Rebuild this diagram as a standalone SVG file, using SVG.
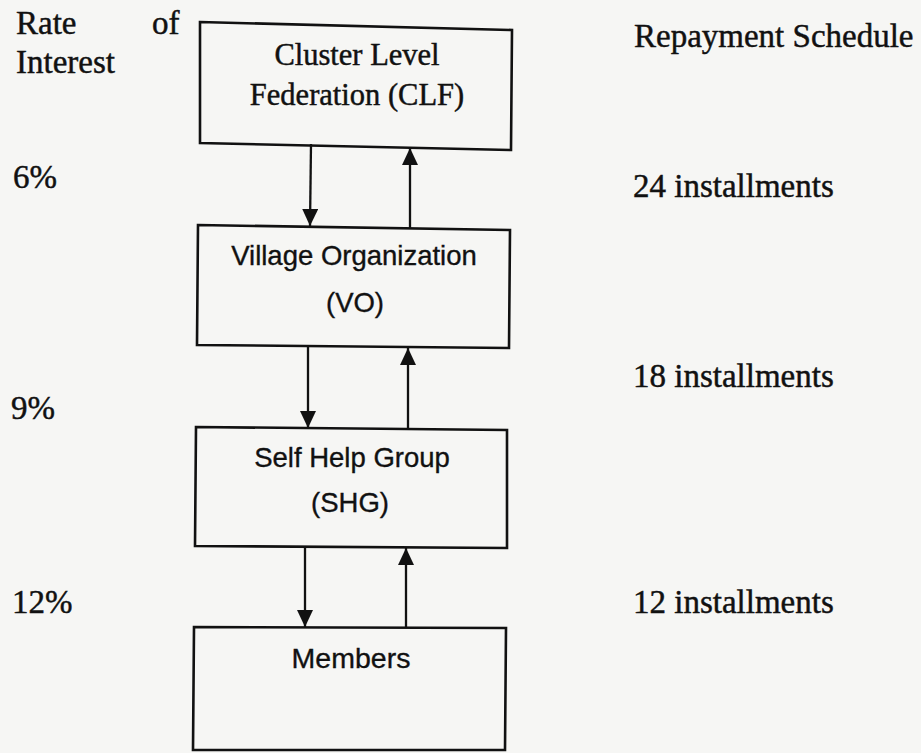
<svg xmlns="http://www.w3.org/2000/svg" width="921" height="753" viewBox="0 0 921 753">
<style>
.serif{font-family:"Liberation Serif","Times New Roman",serif;fill:#111;stroke:#111;stroke-width:0.45}
.sans{font-family:"Liberation Sans",Arial,sans-serif;fill:#111;stroke:#111;stroke-width:0.35}
.box{fill:none;stroke:#111;stroke-width:2.6}
.conn{stroke:#111;stroke-width:2.3;fill:none}
</style>
<defs>
<marker id="ah" markerUnits="userSpaceOnUse" markerWidth="18" markerHeight="16" refX="17" refY="8" orient="auto">
<path d="M0,0 L17,8 L0,16 z" fill="#111"/>
</marker>
</defs>
<rect width="921" height="753" fill="#f6f6f4"/>
<g id="labels-left">
<text class="serif" x="16" y="34" font-size="33">Rate</text>
<text class="serif" x="152" y="34" font-size="33">of</text>
<text class="serif" x="16" y="73" font-size="33">Interest</text>
<text class="serif" x="13" y="188" font-size="33">6%</text>
<text class="serif" x="11" y="419" font-size="33">9%</text>
<text class="serif" x="12" y="613" font-size="33">12%</text>
</g>
<g id="labels-right">
<text class="serif" x="634" y="47" font-size="33">Repayment Schedule</text>
<text class="serif" x="633" y="197" font-size="33">24 installments</text>
<text class="serif" x="633" y="387" font-size="33">18 installments</text>
<text class="serif" x="633" y="613" font-size="33">12 installments</text>
</g>
<g id="clf">
<path class="box" d="M200,22 L512,30 L511,150 L200,143 Z"/>
<text class="serif" x="357" y="65" font-size="30.5" text-anchor="middle">Cluster Level</text>
<text class="serif" x="357" y="105" font-size="30.5" text-anchor="middle">Federation (CLF)</text>
</g>
<g id="vo">
<path class="box" d="M198,225 L510,230 L509,348 L197,345 Z"/>
<text class="sans" x="354" y="265" font-size="27.5" text-anchor="middle">Village Organization</text>
<text class="sans" x="355" y="312" font-size="27.5" text-anchor="middle">(VO)</text>
</g>
<g id="shg">
<path class="box" d="M196,427 L507,430 L507,548 L195,546 Z"/>
<text class="sans" x="352" y="467" font-size="27.5" text-anchor="middle">Self Help Group</text>
<text class="sans" x="350" y="512" font-size="27.5" text-anchor="middle">(SHG)</text>
</g>
<g id="members">
<path class="box" d="M194,627 L506,628 L505,750 L193,750 Z"/>
<text class="sans" x="351" y="668" font-size="28.5" text-anchor="middle">Members</text>
</g>
<g id="connectors">
<line class="conn" x1="311" y1="144" x2="310" y2="226" marker-end="url(#ah)"/>
<line class="conn" x1="410" y1="228" x2="410" y2="148" marker-end="url(#ah)"/>
<line class="conn" x1="308" y1="346" x2="308" y2="428" marker-end="url(#ah)"/>
<line class="conn" x1="408" y1="429" x2="408" y2="348" marker-end="url(#ah)"/>
<line class="conn" x1="305" y1="547" x2="305" y2="627" marker-end="url(#ah)"/>
<line class="conn" x1="406" y1="628" x2="406" y2="548" marker-end="url(#ah)"/>
</g>
</svg>
